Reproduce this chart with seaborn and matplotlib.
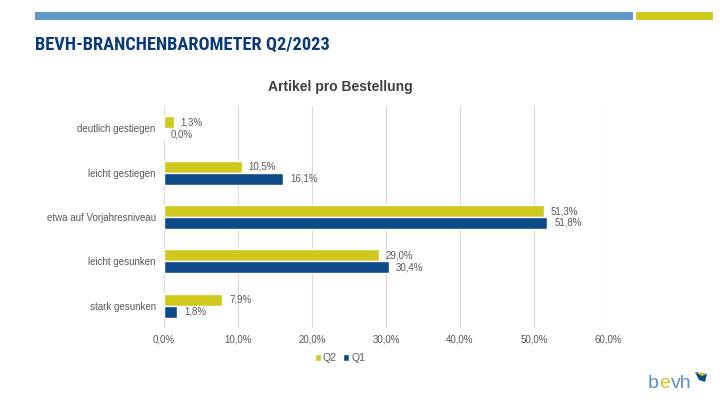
import matplotlib
matplotlib.use("Agg")
import matplotlib.pyplot as plt
from matplotlib import font_manager
import seaborn as sns
import pandas as pd
from matplotlib.patches import Rectangle, Polygon

categories = ["deutlich gestiegen", "leicht gestiegen", "etwa auf Vorjahresniveau",
              "leicht gesunken", "stark gesunken"]
q2_values = [1.3, 10.5, 51.3, 29.0, 7.9]
q1_values = [0.0, 16.1, 51.8, 30.4, 1.8]
series = ["Q2", "Q1"]
x_ticks = [0, 10, 20, 30, 40, 50, 60]

df = pd.DataFrame({
    "Kategorie": categories * 2,
    "Wert": q2_values + q1_values,
    "Serie": ["Q2"] * len(categories) + ["Q1"] * len(categories),
})

sns.set_theme(style="white")
plt.rcParams["font.family"] = ["Liberation Sans", "DejaVu Sans"]

YELLOW = "#CEC91C"
BLUE = "#0E4A8A"
GRAY = "#595959"
LOGO_BLUE = "#5F8FC0"

# pick a narrow bold face for the headline (like Arial Narrow)
title_font = None
files = [f.fname for f in font_manager.fontManager.ttflist]
for pref in ["LiberationSansNarrow-Bold.", "ArialNarrow-Bold", "ArchivoNarrow-Bold.",
             "RobotoCondensed-Bold.", "RobotoCondensed[", "DejaVuSansCondensed-Bold."]:
    hits = [p for p in files if pref in p.split("/")[-1]]
    if hits:
        title_font = hits[0]
        break

fig = plt.figure(figsize=(7.2, 4.05), dpi=100)
fig.patch.set_facecolor("white")

fig.add_artist(Rectangle((35/720, 1-20/405), (633-35)/720, 8/405, transform=fig.transFigure,
                         color="#5F9AC6", lw=0))
fig.add_artist(Rectangle((636/720, 1-20/405), (713-636)/720, 8/405, transform=fig.transFigure,
                         color=YELLOW, lw=0))
TITLE = "BEVH-BRANCHENBAROMETER Q2/2023"
renderer = fig.canvas.get_renderer()
if title_font is not None:
    fp = font_manager.FontProperties(fname=title_font, size=14.5, weight="bold")
    tt = fig.text(35/720, 1-45/405, TITLE, fontproperties=fp, color="#0B3A78",
                  va="center", ha="left")
    w = tt.get_window_extent(renderer).width
    fp.set_size(14.5 * min(1.15, max(0.8, 295 / w)))
    tt.set_fontproperties(fp)
else:
    fig.text(35/720, 1-45/405, TITLE, fontsize=12.5, fontweight="bold", color="#0B3A78",
             va="center", ha="left")

ax = fig.add_axes([164/720, 1-328/405, (608-164)/720, (328-106)/405])
sns.barplot(data=df, y="Kategorie", x="Wert", hue="Serie", hue_order=series,
            order=categories, palette=[YELLOW, BLUE], width=0.54, orient="h", ax=ax,
            saturation=1, legend=True)

ax.set_xlim(0, 60)
ax.set_xticks(x_ticks)
ax.set_xticklabels([f"{t:.1f}%".replace(".", ",") for t in x_ticks], fontsize=7, color=GRAY)
ax.tick_params(axis="y", labelsize=7, colors=GRAY, length=0, pad=6)
ax.tick_params(axis="x", length=0, pad=5)
ax.set_xlabel("")
ax.set_ylabel("")
for s in ax.spines.values():
    s.set_visible(False)
ax.grid(axis="x", color="#D9D9D9", lw=0.8)
ax.set_axisbelow(True)

for cont in ax.containers:
    labels = [f"{w:.1f}%".replace(".", ",") for w in cont.datavalues]
    ax.bar_label(cont, labels=labels, padding=5, fontsize=7, color=GRAY)

fig.text(340/720, 1-87/405, "Artikel pro Bestellung", fontsize=10, fontweight="bold",
         color="#404040", ha="center", va="center")

leg = ax.legend(loc="center", bbox_to_anchor=((340-164)/(608-164), -(358-328)/(328-106)),
                ncol=2, frameon=False, fontsize=7.5, handlelength=0.6, handleheight=0.6,
                handletextpad=0.2, columnspacing=0.6)
for t in leg.get_texts():
    t.set_color(GRAY)

x_px = 648
for part, col in [("b", LOGO_BLUE), ("e", YELLOW), ("vh", LOGO_BLUE)]:
    t = fig.text(x_px/720, 1-383/405, part, fontsize=14, color=col, va="center", ha="left")
    bb = t.get_window_extent(renderer)
    x_px += bb.width + 0.5
fig.add_artist(Polygon([[695/720, 1-372/405], [707/720, 1-374/405], [705/720, 1-382/405],
                        [699/720, 1-380/405]], closed=True, transform=fig.transFigure,
                       color=BLUE, lw=0))
fig.add_artist(Polygon([[695/720, 1-372/405], [707/720, 1-374/405], [702/720, 1-376/405]],
                       closed=True, transform=fig.transFigure, color=YELLOW, lw=0))

fig.savefig("out.png", dpi=100)
